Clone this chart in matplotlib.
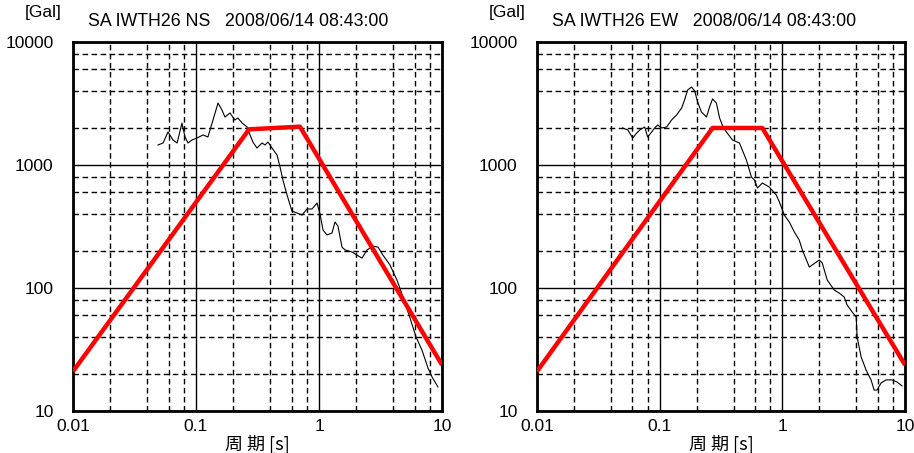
import numpy as np
import matplotlib
matplotlib.use("Agg")
import matplotlib.pyplot as plt

# ---- data ----
ns_period = [0.0491, 0.054, 0.0592, 0.0627, 0.065, 0.0702, 0.0769, 0.0783, 0.0815, 0.0861,
             0.0927, 0.102, 0.114, 0.125, 0.1375, 0.151, 0.1625, 0.172, 0.189, 0.207,
             0.219, 0.237, 0.260, 0.275, 0.290, 0.313, 0.344, 0.364, 0.385, 0.415,
             0.456, 0.482, 0.509, 0.550, 0.602, 0.662, 0.728, 0.798, 0.877, 0.964,
             1.019, 1.078, 1.161, 1.276, 1.349, 1.426, 1.538, 1.627, 1.855, 2.037,
             2.238, 2.455, 2.748, 3.018, 3.311, 3.776, 4.305, 4.819, 5.495, 6.15,
             6.87, 7.69, 8.3, 9.27]
ns_sa = [1455, 1510, 1855, 1690, 1597, 1510, 2193, 2000, 1690, 1510,
         1597, 1659, 1754, 1690, 2321, 3192, 2800, 2455, 2648, 2321,
         2410, 2193, 2036, 1754, 1538, 1374, 1510, 1455, 1538, 1374,
         1205, 964, 755, 570, 423, 407, 392, 439, 439, 491,
         400, 296, 270, 280, 344, 319, 215, 204, 196, 185,
         175, 204, 219, 215, 185, 154, 116, 84.5, 57, 40,
         31.3, 22.4, 18.9, 15.7]

ew_period = [0.050, 0.055, 0.0603, 0.065, 0.0687, 0.0755, 0.0798, 0.0861, 0.091, 0.0964,
             0.1038, 0.114, 0.125, 0.1375, 0.151, 0.1595, 0.169, 0.182, 0.193, 0.204,
             0.219, 0.241, 0.255, 0.270, 0.290, 0.308, 0.331, 0.392, 0.447, 0.509,
             0.560, 0.592, 0.627, 0.687, 0.783, 0.893, 0.946, 1.038, 1.140, 1.253,
             1.374, 1.455, 1.660, 2.0, 2.114, 2.323, 2.648, 2.904, 3.19, 3.374,
             3.71, 4.0, 4.07, 4.39, 4.82, 5.29, 5.6, 5.92, 6.38, 7.01,
             7.84, 8.61, 9.46]
ew_sa = [2000, 1926, 1659, 1820, 1926, 2036, 1690, 1855, 2000, 2115,
         2000, 2036, 2321, 2551, 2905, 3375, 4070, 4305, 3995, 3252,
         2698, 2455, 2962, 3443, 3192, 2410, 2000, 1597, 1510, 1099,
         798, 755, 650, 714, 662, 570, 500, 392, 344, 285,
         245, 204, 148, 169, 160, 116, 96.4, 91, 84.5, 72.8,
         63.8, 58, 40, 27.5, 21.5, 17.9, 14.8, 14.8, 16.9, 17.9,
         17.9, 17.2, 16.0]

ns_design_period = [0.01, 0.27, 0.70, 10]
ns_design_sa = [21, 1950, 2050, 23.7]
ew_design_period = [0.01, 0.27, 0.687, 10]
ew_design_sa = [21, 2000, 2000, 23.7]

titles = ["SA IWTH26 NS   2008/06/14 08:43:00", "SA IWTH26 EW   2008/06/14 08:43:00"]
x_ticks = [0.01, 0.1, 1, 10]
x_tick_labels = ["0.01", "0.1", "1", "10"]
y_ticks = [10, 100, 1000, 10000]
y_tick_labels = ["10", "100", "1000", "10000"]
x_minor = [m * 10.0 ** e for e in (-2, -1, 0) for m in (2, 4, 6, 8)]
y_minor = [m * 10.0 ** e for e in (1, 2, 3) for m in (2, 4, 6, 8)]

plt.rcParams['font.family'] = ['Liberation Sans', 'DejaVu Sans']

fig = plt.figure(figsize=(9.14, 4.53), dpi=100)
positions = [[73 / 914, 42 / 453, 369 / 914, 369 / 453],
             [537 / 914, 42 / 453, 368 / 914, 369 / 453]]
datasets = [(ns_period, ns_sa, ns_design_period, ns_design_sa),
            (ew_period, ew_sa, ew_design_period, ew_design_sa)]

for pos, (tp, sa, dp, ds), title in zip(positions, datasets, titles):
    ax = fig.add_axes(pos)
    ax.set_xscale('log')
    ax.set_yscale('log')
    ax.set_xlim(0.01, 10)
    ax.set_ylim(10, 10000)
    ax.set_xticks(x_ticks)
    ax.set_xticklabels(x_tick_labels)
    ax.set_yticks(y_ticks)
    ax.set_yticklabels(y_tick_labels)
    ax.set_xticks(x_minor, minor=True)
    ax.set_yticks(y_minor, minor=True)
    ax.tick_params(which='both', length=0, labelsize=12.5)
    ax.tick_params(axis='x', pad=6)
    ax.tick_params(axis='y', pad=14)
    ax.grid(True, which='major', color='black', lw=1.0, ls='-')
    ax.grid(True, which='minor', color='black', lw=1.0, ls=(0, (4, 2.5)))
    ax.set_axisbelow(True)
    for s in ax.spines.values():
        s.set_linewidth(2.0)
        s.set_color('black')
    ax.plot(tp, sa, color='black', lw=0.8, zorder=3)
    ax.plot(dp, ds, color='#ff0000', lw=3.2, zorder=4, solid_capstyle='butt')
    ax.set_xlabel("周 期 [s]", family=['Noto Sans CJK JP', 'DejaVu Sans'],
                  fontsize=13, labelpad=0)
    ax.text(0.04, 1.055, title, transform=ax.transAxes, fontsize=12.8,
            ha='left', va='center')
    ax.text(-0.03, 1.08, "[Gal]", transform=ax.transAxes, fontsize=12.5,
            ha='right', va='center')

fig.savefig("out.png", dpi=100)
